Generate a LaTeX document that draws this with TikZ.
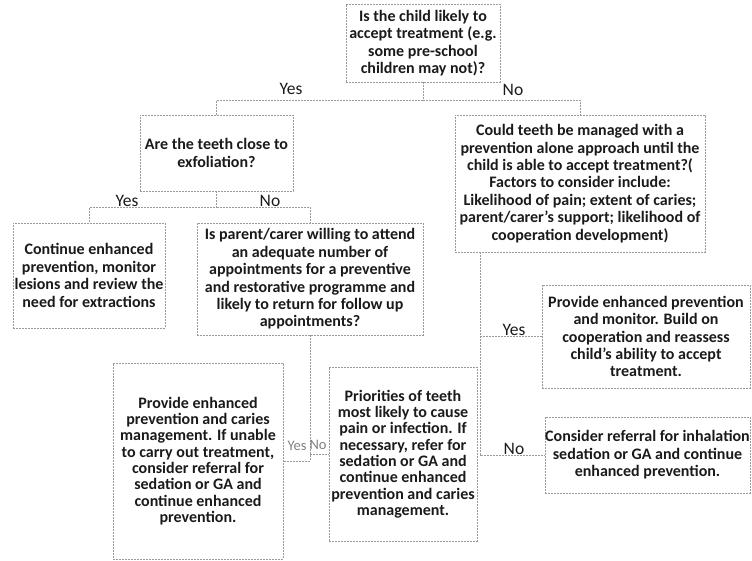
\documentclass[tikz,border=0pt]{standalone}
\usepackage{fontspec}
\setmainfont{Carlito}
\definecolor{boxgray}{HTML}{9A9A9A}
\definecolor{textdark}{HTML}{1A1A1A}
\begin{document}
\begin{tikzpicture}[x=1pt,y=-1pt,
  box/.style={draw=boxgray, dash pattern=on 2pt off 1pt, line width=0.7pt,
    inner sep=0pt, align=center, text=textdark,
    font=\fontsize{16}{17.4}\selectfont\bfseries},
  tightbox/.style={box, font=\fontsize{16}{16.3}\selectfont\bfseries},
  link/.style={draw=boxgray, dash pattern=on 2pt off 1pt, line width=0.7pt},
  lab/.style={font=\fontsize{17.5}{20}\selectfont, text=textdark, inner sep=0pt},
  smalllab/.style={font=\fontsize{14.5}{16}\selectfont, text=gray, inner sep=0pt}]
\useasboundingbox (0,0) rectangle (752,561);

% decision and action boxes
\node[box, minimum width=154pt, minimum height=78pt] (T) at (423,43)
  {Is the child likely to\\accept treatment (e.g.\\some pre-school\\children may not)?};
\node[box, minimum width=153pt, minimum height=76pt] (E) at (216.5,153)
  {Are the teeth close to\\exfoliation?};
\node[box, minimum width=152pt, minimum height=105pt] (C) at (89,275.5)
  {Continue enhanced\\prevention, monitor\\lesions and review the\\need for extractions};
\node[box, minimum width=226pt, minimum height=112pt] (P) at (310,279)
  {Is parent/carer willing to attend\\an adequate number of\\appointments for a preventive\\and restorative programme and\\likely to return for follow up\\appointments?};
\node[tightbox, minimum width=170pt, minimum height=196pt] (L) at (198,461)
  {Provide enhanced\\prevention and caries\\management. If unable\\to carry out treatment,\\consider referral for\\sedation or GA and\\continue enhanced\\prevention.};
\node[tightbox, minimum width=148pt, minimum height=174pt] (Q) at (403,454)
  {Priorities of teeth\\most likely to cause\\pain or infection. If\\necessary, refer for\\sedation or GA and\\continue enhanced\\prevention and caries\\management.};
\node[box, minimum width=250pt, minimum height=137pt] (R) at (580,183.5)
  {Could teeth be managed with a\\prevention alone approach until the\\child is able to accept treatment?(\\Factors to consider include:\\Likelihood of pain; extent of caries;\\parent/carer’s support; likelihood of\\cooperation development)};
\node[box, minimum width=208pt, minimum height=103pt] (M) at (646,336.5)
  {Provide enhanced prevention\\and monitor. Build on\\cooperation and reassess\\child’s ability to accept\\treatment.};
\node[box, minimum width=205pt, minimum height=76pt] (N) at (647.5,455)
  {Consider referral for inhalation\\sedation or GA and continue\\enhanced prevention.};

% connectors
\draw[link] (T.south) -- ++(0,18) coordinate (tj) -| (E.north);
\draw[link] (tj) -| (R.north);
\draw[link] (E.south) -- ++(0,16) coordinate (ej) -| (C.north);
\draw[link] (ej) -| (P.north);
\draw[link] (P.south) -- (P.south |- L.east) -- (L.east);
\draw[link] (Q.west -| P.south) -- (Q.west);
\coordinate (rj) at ([xshift=-100pt]R.south);
\draw[link] (rj) |- (N.west);
\draw[link] (M.west -| rj) -- (M.west);

% branch labels
\node[lab] (ty) at (291,89) {Yes};
\node[lab] (tn) at (513,90) {No};
\node[lab] (ey) at (127,201) {Yes};
\node[lab] (en) at (270,201) {No};
\node[smalllab] (py) at (297,446) {Yes};
\node[smalllab] (pn) at (318,445) {No};
\node[lab] (ry) at (514,330) {Yes};
\node[lab] (rn) at (514,449) {No};
\end{tikzpicture}
\end{document}
